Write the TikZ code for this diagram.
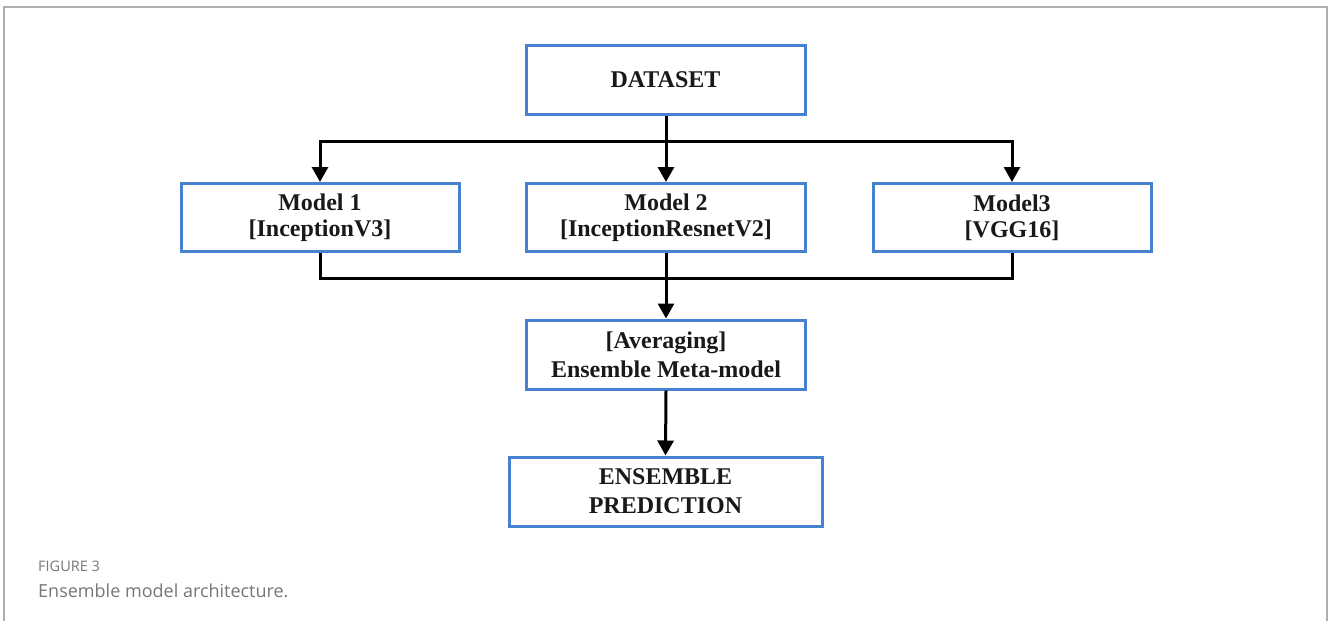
\documentclass[tikz,border=0pt]{standalone}
\usepackage{fontspec}
\setmainfont{Liberation Serif}
\newfontfamily\capfont{Open Sans}
\usetikzlibrary{arrows.meta}
\definecolor{boxblue}{RGB}{70,130,208}
\definecolor{framegray}{RGB}{175,175,175}
\definecolor{capgray}{RGB}{118,118,118}
\definecolor{txt}{RGB}{25,25,25}
\tikzset{
  blockbox/.style={draw=boxblue, line width=3pt, fill=white, align=center, inner sep=0pt,
    font=\bfseries\fontsize{24}{29}\selectfont, text=txt},
  wire/.style={line width=3pt, draw=black},
  arr/.style={wire, -{Triangle[width=16pt,length=15pt]}},
}
\begin{document}
\begin{tikzpicture}[x=1pt,y=-1pt]
\useasboundingbox (0,0) rectangle (1328,621);
% frame
\draw[framegray, line width=2pt] (4,621) -- (4,7) -- (1327,7) -- (1327,621);
% nodes
\node[blockbox, minimum width=279pt, minimum height=69pt] (data) at (665.5,79.5) {DATASET};
\node[blockbox, minimum width=278pt, minimum height=68pt] (m1) at (320,217.5) {\raisebox{-3pt}{Model 1}\\{}[InceptionV3]};
\node[blockbox, minimum width=279pt, minimum height=68pt] (m2) at (666,217.5) {\raisebox{-3pt}{Model 2}\\{}[InceptionResnetV2]};
\node[blockbox, minimum width=278pt, minimum height=68pt] (m3) at (1012,217.5) {\raisebox{-3pt}{Model3}\\{}[VGG16]};
\node[blockbox, minimum width=279pt, minimum height=69pt] (avg) at (666,354.5) {{}[Averaging]\\Ensemble Meta-model};
\node[blockbox, minimum width=313pt, minimum height=69pt] (pred) at (665.5,491.5) {ENSEMBLE\\PREDICTION};
% junctions
\coordinate (j1) at (666,141);
\coordinate (j2) at (666,278);
% top distribution
\draw[wire] (data.south -| j1) -- (j1);
\draw[arr] (j1) -| (m1.north);
\draw[arr] (j1) -| (m3.north);
\draw[arr] (j1) -- (m2.north);
% bottom collection
\draw[wire] (m1.south) |- (j2) -| (m3.south);
\draw[arr] (m2.south) -- (avg.north);
\draw[arr] (avg.south) -- (pred.north);
% caption
\node[anchor=base west, inner sep=0pt, text=capgray, font=\capfont\fontsize{14.5}{16}\selectfont] (figlab) at (38,571) {FIGURE 3};
\node[anchor=base west, inner sep=0pt, text=capgray, font=\capfont\fontsize{18}{22}\selectfont] (figcap) at (38,597) {Ensemble model architecture.};
\end{tikzpicture}
\end{document}
